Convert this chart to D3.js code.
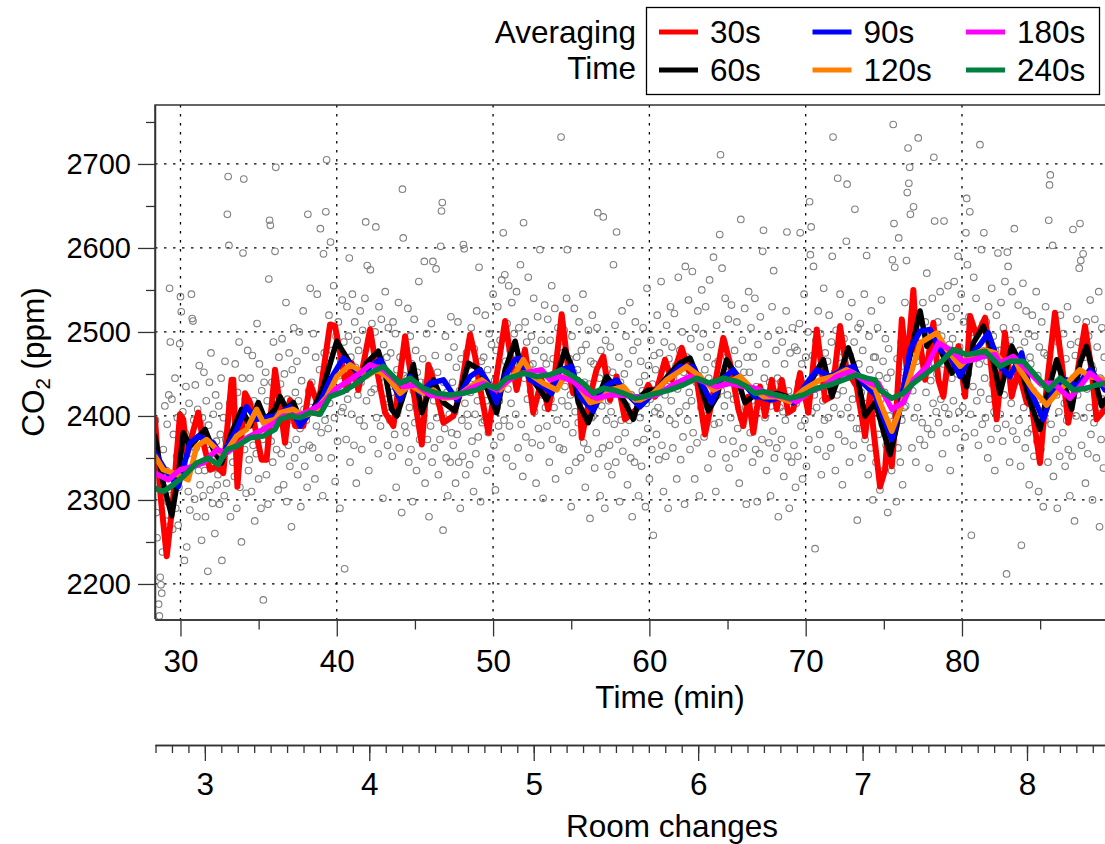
<!DOCTYPE html>
<html><head><meta charset="utf-8">
<script src="https://cdn.jsdelivr.net/npm/d3@7"></script>
<style>
body{margin:0;background:#fff}
svg{display:block}
text{font-family:"Liberation Sans",Arial,Helvetica,sans-serif;fill:#000}
</style>
</head><body>
<svg id="chart" width="1105" height="844"></svg>
<script>
// ---------------- data ----------------
const timeDomain = [28.37, 89.15];          // minutes
const co2Domain = [2158.3, 2770.2];         // ppm
const minutesPerRoomChange = 10.52;
const timeTicks = [30, 40, 50, 60, 70, 80];
const timeMinorTicks = [35, 45, 55, 65, 75, 85];
const co2Ticks = [2200, 2300, 2400, 2500, 2600, 2700];
const co2MinorTicks = [2250, 2350, 2450, 2550, 2650, 2750];
const roomTicks = [3, 4, 5, 6, 7, 8];
const seriesNames = ["30s", "60s", "90s", "120s", "180s", "240s"];
const seriesColors = ["#ff0000", "#000000", "#0000ff", "#ff8000", "#ff00ff", "#008040"];

const avg30 = [[28.37,2396],[28.73,2304],[29.12,2233],[29.50,2296],[29.97,2402],[30.18,2396],[30.40,2352],[30.72,2376],[31.14,2404],[31.46,2368],[31.89,2336],[32.32,2340],[32.74,2332],[33.27,2443],[33.38,2443],[33.64,2316],[34.13,2427],[34.45,2416],[35.19,2348],[35.51,2348],[36.05,2455],[36.69,2368],[37.01,2419],[37.33,2388],[37.86,2388],[38.29,2439],[38.82,2412],[39.57,2509],[39.89,2507],[40.64,2431],[40.95,2463],[41.38,2431],[42.13,2503],[42.45,2467],[43.09,2404],[43.62,2388],[44.37,2495],[44.69,2455],[45.44,2366],[45.86,2461],[46.18,2443],[46.82,2392],[47.46,2400],[47.89,2427],[48.53,2497],[48.85,2471],[49.27,2423],[49.70,2380],[50.02,2423],[50.77,2513],[51.09,2475],[51.51,2431],[52.04,2479],[52.57,2404],[53.11,2443],[53.53,2408],[53.96,2451],[54.39,2521],[54.81,2455],[55.13,2427],[55.45,2443],[55.67,2374],[56.20,2423],[56.62,2455],[57.05,2471],[57.48,2419],[57.90,2447],[58.44,2396],[59.19,2408],[59.61,2423],[59.93,2437],[60.36,2423],[61.00,2467],[61.43,2443],[62.07,2481],[62.49,2455],[63.03,2443],[63.56,2378],[63.98,2416],[64.73,2493],[65.16,2463],[65.69,2408],[66.01,2388],[66.33,2423],[66.65,2380],[67.08,2435],[67.40,2400],[67.83,2443],[68.15,2408],[68.47,2443],[68.89,2404],[69.21,2408],[69.64,2451],[69.96,2423],[70.17,2404],[70.71,2503],[71.03,2455],[71.24,2419],[71.67,2423],[72.20,2507],[72.62,2455],[73.26,2435],[73.80,2376],[74.12,2427],[74.33,2384],[74.76,2316],[75.08,2336],[75.29,2392],[75.51,2340],[75.83,2416],[76.15,2515],[76.47,2455],[76.89,2550],[77.11,2475],[77.32,2487],[77.64,2443],[78.17,2511],[78.49,2443],[78.81,2423],[79.13,2471],[79.45,2455],[79.77,2483],[80.20,2423],[80.52,2519],[80.94,2495],[81.48,2517],[81.80,2471],[82.22,2396],[82.75,2499],[83.18,2423],[83.60,2455],[84.14,2416],[84.46,2412],[84.99,2344],[85.42,2435],[85.95,2523],[86.38,2463],[86.80,2392],[87.34,2447],[87.87,2507],[88.29,2455],[88.61,2396],[89.15,2408]];

const avg60 = [[28.37,2376],[28.90,2320],[29.44,2281],[29.86,2328],[30.18,2380],[30.61,2364],[31.57,2384],[32.10,2360],[32.63,2344],[33.27,2380],[33.91,2408],[34.45,2388],[34.98,2416],[35.41,2396],[36.05,2408],[36.37,2423],[36.80,2408],[37.22,2416],[37.76,2392],[38.50,2408],[39.14,2435],[40.00,2489],[40.32,2479],[40.85,2463],[41.49,2447],[41.91,2463],[42.66,2477],[43.09,2451],[43.51,2408],[43.84,2400],[44.90,2461],[45.44,2404],[46.18,2443],[46.82,2416],[47.57,2406],[48.42,2463],[49.17,2455],[49.81,2423],[50.23,2404],[50.77,2455],[51.41,2489],[51.72,2463],[52.36,2447],[53.00,2431],[53.43,2419],[54.07,2447],[54.60,2479],[55.03,2459],[55.45,2416],[56.09,2392],[56.73,2423],[57.26,2447],[57.90,2431],[58.44,2416],[58.97,2396],[59.40,2423],[59.93,2431],[60.47,2431],[61.32,2451],[61.96,2463],[62.60,2469],[63.24,2439],[63.77,2406],[64.31,2423],[64.94,2467],[65.58,2447],[66.12,2416],[66.87,2427],[67.51,2423],[68.15,2427],[68.79,2423],[69.21,2416],[69.85,2431],[70.49,2447],[71.13,2467],[71.67,2423],[72.20,2451],[72.73,2481],[73.26,2451],[73.80,2400],[74.44,2416],[74.76,2396],[75.40,2354],[75.83,2388],[76.47,2455],[77.32,2525],[77.75,2483],[78.17,2495],[78.81,2471],[79.34,2451],[79.77,2463],[80.30,2435],[80.73,2487],[81.37,2507],[81.80,2483],[82.43,2427],[83.18,2483],[83.71,2463],[84.24,2423],[84.99,2384],[85.52,2431],[86.06,2467],[86.59,2435],[87.02,2408],[87.55,2463],[87.97,2483],[88.51,2443],[88.93,2412],[89.15,2419]];

const avg90 = [[28.37,2356],[29.01,2336],[29.86,2316],[30.61,2368],[31.14,2376],[32.10,2368],[32.63,2352],[33.59,2384],[34.23,2411],[34.87,2396],[36.05,2400],[37.01,2411],[37.65,2388],[38.29,2404],[38.93,2416],[39.57,2443],[40.42,2469],[41.06,2459],[41.59,2443],[42.13,2459],[42.77,2467],[43.41,2447],[44.05,2419],[44.69,2447],[45.33,2427],[45.97,2439],[46.82,2443],[47.68,2419],[48.53,2447],[49.17,2455],[49.70,2439],[50.23,2416],[50.77,2447],[51.41,2467],[51.72,2469],[52.36,2443],[53.21,2435],[53.75,2427],[54.28,2455],[55.03,2459],[55.56,2423],[56.41,2406],[57.16,2435],[57.90,2443],[58.54,2427],[59.40,2411],[60.04,2423],[60.89,2439],[61.96,2459],[62.81,2459],[63.45,2435],[63.98,2416],[64.62,2443],[65.37,2455],[66.01,2439],[66.76,2423],[67.08,2423],[67.72,2419],[68.57,2423],[69.21,2416],[70.07,2439],[70.71,2455],[71.56,2447],[72.41,2455],[73.05,2459],[73.69,2439],[74.44,2425],[74.76,2408],[75.51,2372],[76.04,2411],[76.68,2479],[77.32,2501],[77.96,2503],[78.60,2479],[79.24,2471],[79.88,2447],[80.52,2471],[81.16,2485],[81.69,2499],[82.43,2459],[83.07,2447],[83.82,2475],[84.35,2431],[85.20,2396],[85.84,2431],[86.70,2443],[87.34,2435],[88.19,2455],[88.72,2443],[89.15,2431]];

const avg120 = [[28.37,2352],[28.90,2336],[29.54,2332],[30.50,2324],[31.04,2364],[31.67,2372],[32.32,2360],[32.74,2352],[33.59,2376],[34.23,2384],[34.87,2408],[35.30,2392],[36.05,2396],[36.37,2404],[37.22,2408],[37.86,2400],[38.50,2404],[39.36,2423],[40.00,2447],[40.85,2461],[41.38,2455],[41.91,2447],[42.55,2455],[43.19,2447],[43.73,2435],[44.05,2427],[44.69,2437],[45.54,2427],[46.18,2431],[46.82,2421],[47.68,2423],[48.53,2435],[49.27,2443],[49.81,2435],[50.45,2431],[51.41,2451],[51.93,2467],[52.57,2447],[53.21,2439],[54.07,2431],[54.71,2451],[55.35,2439],[56.20,2416],[56.84,2419],[57.48,2431],[58.33,2435],[59.08,2419],[59.40,2419],[60.25,2427],[61.11,2443],[62.39,2459],[63.24,2447],[64.09,2431],[64.94,2439],[65.80,2447],[66.44,2435],[67.29,2423],[68.15,2423],[69.00,2417],[69.85,2431],[70.92,2443],[71.77,2447],[72.62,2455],[73.48,2447],[74.44,2433],[74.76,2416],[75.51,2382],[76.04,2408],[76.68,2447],[77.32,2487],[78.39,2499],[79.03,2479],[79.88,2459],[80.52,2471],[81.37,2479],[82.12,2475],[82.64,2463],[83.39,2467],[83.71,2455],[84.56,2431],[85.42,2413],[86.06,2427],[86.91,2443],[87.55,2455],[88.19,2447],[89.15,2443]];

const avg180 = [[28.37,2332],[29.22,2324],[29.97,2336],[30.82,2340],[31.46,2344],[32.32,2360],[32.96,2356],[33.81,2368],[34.45,2376],[35.30,2384],[36.05,2392],[36.58,2400],[37.44,2400],[38.29,2406],[39.14,2416],[40.00,2433],[40.85,2443],[41.49,2451],[42.13,2461],[42.98,2455],[43.73,2443],[44.26,2435],[45.12,2437],[45.97,2425],[46.82,2423],[47.68,2423],[48.53,2433],[49.38,2439],[50.23,2431],[50.87,2441],[51.40,2447],[51.93,2451],[53.11,2455],[53.64,2443],[54.28,2447],[55.13,2441],[55.99,2427],[56.62,2421],[57.48,2425],[58.12,2425],[59.08,2423],[59.61,2423],[60.47,2425],[61.32,2435],[62.60,2447],[63.45,2441],[64.31,2435],[65.16,2439],[66.01,2435],[66.76,2433],[67.08,2431],[67.72,2425],[68.57,2423],[69.43,2417],[70.28,2429],[71.13,2435],[71.98,2447],[72.84,2453],[73.69,2443],[74.44,2437],[74.65,2439],[75.51,2408],[76.25,2416],[76.89,2443],[77.75,2459],[78.49,2487],[79.24,2479],[80.09,2465],[80.73,2467],[81.37,2471],[82.12,2473],[82.43,2463],[83.28,2471],[84.14,2455],[84.99,2439],[85.84,2439],[86.91,2421],[87.55,2435],[88.19,2451],[89.15,2437]];

const avg240 = [[28.37,2314],[28.90,2310],[29.54,2318],[30.18,2328],[30.61,2336],[31.04,2344],[31.78,2350],[32.42,2342],[32.96,2360],[33.59,2364],[34.45,2374],[35.30,2376],[36.05,2384],[36.37,2396],[37.01,2400],[37.65,2398],[38.29,2404],[38.93,2402],[39.57,2423],[40.42,2429],[41.27,2439],[42.13,2451],[42.98,2459],[43.41,2451],[44.05,2439],[44.69,2445],[45.54,2433],[46.40,2427],[47.25,2425],[48.10,2427],[48.95,2431],[49.59,2437],[50.23,2433],[50.87,2445],[51.40,2447],[51.93,2451],[52.79,2447],[53.64,2449],[54.39,2455],[55.13,2447],[55.77,2439],[56.41,2427],[57.05,2433],[57.69,2431],[58.33,2427],[59.08,2421],[59.61,2423],[60.47,2427],[61.32,2431],[62.17,2437],[63.03,2445],[63.88,2439],[64.73,2445],[65.58,2441],[66.22,2435],[66.76,2427],[67.29,2429],[68.15,2425],[69.00,2421],[69.85,2425],[70.71,2433],[71.56,2437],[72.41,2443],[73.26,2449],[73.90,2445],[74.44,2443],[74.76,2431],[75.51,2421],[76.25,2427],[76.89,2439],[77.75,2451],[78.60,2463],[79.45,2479],[80.30,2473],[80.94,2475],[81.48,2477],[82.43,2459],[83.07,2465],[83.92,2465],[84.78,2447],[85.52,2431],[86.27,2445],[87.12,2431],[87.97,2433],[88.61,2437],[89.15,2439]];

// raw readings, one every 3 s (0.05 min) starting at 28.40 min
const rawStart = 28.40, rawStep = 0.05;
const rawCO2 = [
2395,2285,2255,2340,2176,2162,2208,2199,2189,2238,2360,2310,2412,2275,2335,2390,2298,2425,2552,2488,
2305,2420,2265,2378,2330,2445,2290,2352,2398,2270,2315,2486,2542,2524,2368,2405,2342,2228,2380,2435,
2244,2372,2310,2415,2288,2356,2545,2516,2513,2395,2301,2437,2362,2280,2408,2335,2460,2318,2390,2252,
2398,2305,2452,2335,2280,2418,2366,2215,2389,2440,2312,2475,2350,2296,2402,2338,2260,2425,2370,2318,
2330,2412,2295,2378,2445,2228,2350,2398,2305,2465,2372,2320,2640,2685,2603,2415,2280,2362,2436,2345,
2410,2328,2462,2375,2290,2428,2352,2488,2315,2398,2250,2445,2594,2682,2360,2420,2308,2395,2478,2335,
2348,2445,2390,2310,2472,2365,2418,2275,2402,2355,2510,2380,2325,2462,2398,2290,2430,2372,2181,2440,
2385,2452,2330,2418,2295,2563,2633,2627,2370,2440,2345,2488,2402,2596,2696,2360,2425,2312,2470,2392,
2438,2355,2492,2402,2318,2450,2380,2535,2298,2420,2365,2475,2340,2412,2268,2455,2395,2505,2350,2428,
2372,2465,2330,2418,2500,2385,2292,2442,2360,2525,2408,2340,2478,2395,2315,2640,2430,2365,2552,2410,
2440,2362,2498,2405,2325,2470,2388,2545,2410,2350,2455,2623,2380,2428,2305,2593,2475,2395,2643,2705,
2462,2385,2520,2415,2607,2350,2478,2440,2555,2398,2322,2495,2430,2370,2512,2448,2290,2465,2405,2538,
2410,2488,2218,2455,2372,2530,2420,2495,2588,2345,2470,2402,2545,2438,2365,2512,2458,2320,2490,2425,
2478,2395,2525,2440,2360,2502,2455,2388,2540,2631,2418,2579,2465,2335,2492,2574,2428,2510,2372,2458,
2432,2500,2625,2398,2468,2355,2530,2445,2388,2515,2462,2302,2485,2420,2548,2410,2470,2365,2505,2440,
2395,2475,2428,2352,2512,2440,2378,2498,2315,2455,2405,2535,2362,2470,2420,2285,2670,2612,2448,2388,
2472,2380,2445,2528,2345,2410,2495,2360,2462,2298,2430,2515,2392,2478,2335,2452,2405,2560,2372,2440,
2410,2352,2468,2395,2584,2320,2440,2498,2372,2425,2280,2455,2388,2510,2345,2584,2418,2362,2472,2575,
2398,2452,2330,2415,2372,2602,2644,2654,2264,2440,2385,2495,2350,2428,2305,2470,2402,2345,2518,2380,
2440,2365,2482,2405,2320,2458,2378,2512,2345,2430,2290,2468,2395,2352,2604,2599,2415,2330,2475,2402,
2388,2460,2342,2428,2505,2370,2445,2310,2480,2402,2355,2525,2418,2375,2577,2440,2298,2465,2392,2435,
2470,2395,2520,2418,2335,2455,2380,2498,2428,2350,2485,2405,2545,2365,2442,2312,2478,2410,2530,2388,
2418,2490,2375,2562,2440,2618,2395,2568,2465,2350,2510,2432,2555,2388,2478,2415,2535,2340,2460,2498,
2475,2402,2548,2438,2362,2505,2455,2580,2390,2470,2328,2630,2445,2512,2375,2488,2420,2565,2350,2460,
2430,2495,2368,2462,2540,2405,2478,2320,2452,2518,2385,2440,2598,2365,2490,2425,2302,2470,2532,2410,
2462,2388,2515,2435,2345,2490,2420,2555,2372,2468,2410,2528,2325,2450,2395,2505,2440,2362,2482,2732,
2418,2475,2360,2502,2435,2390,2540,2598,2412,2335,2468,2425,2292,2495,2380,2452,2528,2405,2345,2470,
2455,2392,2512,2430,2350,2478,2405,2545,2368,2440,2315,2485,2420,2360,2502,2438,2278,2465,2398,2520,
2400,2462,2338,2428,2380,2505,2642,2355,2445,2305,2478,2412,2362,2637,2432,2290,2490,2395,2455,2340,
2418,2365,2482,2405,2330,2452,2580,2390,2508,2345,2619,2428,2372,2470,2298,2440,2395,2525,2358,2432,
2450,2380,2495,2412,2318,2462,2395,2535,2350,2425,2280,2478,2402,2345,2512,2420,2368,2488,2305,2440,
2398,2465,2340,2430,2505,2372,2448,2292,2415,2552,2385,2460,2325,2420,2490,2360,2438,2258,2472,2405,
2455,2378,2520,2410,2348,2475,2402,2560,2365,2442,2310,2488,2425,2352,2508,2435,2290,2468,2395,2530,
2418,2482,2362,2445,2522,2390,2460,2325,2432,2565,2405,2478,2348,2440,2500,2375,2452,2295,2578,2412,
2470,2395,2538,2428,2360,2492,2418,2572,2380,2455,2325,2505,2440,2368,2525,2448,2305,2482,2410,2550,
2432,2498,2375,2455,2530,2400,2470,2338,2445,2562,2418,2485,2355,2440,2589,2390,2462,2310,2508,2425,
2465,2392,2616,2711,2430,2576,2372,2488,2412,2540,2350,2470,2425,2515,2338,2458,2398,2532,2445,2370,
2420,2478,2355,2445,2512,2385,2462,2320,2430,2634,2398,2490,2362,2452,2528,2410,2295,2470,2435,2548,
2452,2380,2505,2418,2345,2470,2402,2540,2360,2435,2298,2485,2412,2355,2518,2428,2372,2596,2621,2445,
2398,2462,2335,2420,2495,2368,2440,2305,2412,2530,2382,2573,2350,2428,2478,2362,2445,2280,2502,2410,
2440,2372,2488,2405,2328,2462,2395,2525,2619,2352,2430,2290,2475,2410,2345,2505,2422,2365,2482,2315,
2415,2478,2352,2440,2510,2618,2388,2462,2325,2428,2545,2395,2470,2340,2435,2500,2372,2655,2592,2625,
2405,2472,2578,2425,2242,2490,2410,2360,2525,2445,2378,2498,2330,2462,2418,2552,2395,2475,2352,2440,
2465,2398,2520,2435,2362,2488,2590,2732,2410,2452,2335,2502,2425,2683,2378,2470,2545,2402,2458,2318,
2430,2492,2370,2455,2608,2676,2410,2518,2345,2472,2398,2535,2420,2365,2488,2646,2440,2385,2276,2505,
2462,2385,2510,2428,2350,2478,2402,2545,2372,2440,2591,2415,2330,2495,2455,2362,2525,2408,2300,2470,
2412,2470,2345,2435,2505,2378,2448,2312,2420,2538,2390,2465,2335,2428,2492,2365,2445,2285,2480,2400,
2380,2452,2335,2586,2747,2629,2577,2405,2298,2468,2362,2612,2420,2345,2488,2395,2318,2452,2410,2535,
2412,2585,2666,2719,2677,2696,2640,2475,2362,2430,2649,2398,2520,2345,2465,2410,2731,2480,2372,2505,
2470,2392,2535,2448,2365,2512,2428,2570,2385,2460,2338,2495,2442,2378,2540,2415,2708,2632,2482,2405,
2450,2512,2392,2478,2548,2420,2495,2355,2462,2632,2410,2528,2380,2470,2555,2402,2485,2335,2518,2445,
2492,2418,2560,2465,2385,2528,2450,2590,2405,2482,2362,2545,2470,2410,2512,2438,2375,2618,2659,2580,
2450,2518,2643,2402,2258,2492,2435,2565,2380,2475,2540,2418,2498,2365,2462,2723,2428,2598,2390,2510,
2618,2445,2398,2512,2465,2350,2530,2420,2488,2372,2552,2438,2495,2405,2335,2478,2520,2385,2594,2455,
2478,2402,2535,2448,2370,2505,2425,2560,2390,2212,2595,2578,2455,2345,2490,2415,2548,2382,2468,2623,
2440,2505,2372,2465,2532,2395,2478,2340,2246,2450,2558,2410,2488,2362,2525,2430,2380,2498,2318,2470,
2462,2385,2520,2430,2352,2495,2408,2548,2370,2448,2310,2482,2420,2360,2512,2438,2292,2475,2395,2530,
2418,2472,2345,2633,2675,2687,2390,2455,2603,2328,2440,2505,2372,2425,2290,2488,2405,2352,2520,2430,
2450,2380,2498,2415,2340,2468,2395,2530,2360,2438,2305,2485,2420,2352,2622,2445,2275,2472,2400,2515,
2425,2488,2576,2629,2585,2365,2445,2593,2398,2470,2320,2512,2432,2355,2495,2410,2538,2378,2460,2300,
2455,2392,2515,2430,2350,2482,2410,2548,2268,2445,2372,2505,2420,2338,2470
];

const seriesData = [avg30, avg60, avg90, avg120, avg180, avg240];

// ---------------- layout ----------------
const plot = {left: 155, right: 1105, top: 105, bottom: 619};
const roomAxisY = 745;
const TICK_FONT = 29;
const TITLE_FONT = 31.5;

const svg = d3.select("#chart");
const x = d3.scaleLinear().domain(timeDomain).range([plot.left, plot.right]);
const y = d3.scaleLinear().domain(co2Domain).range([plot.bottom, plot.top]);
const xr = d3.scaleLinear()
  .domain([timeDomain[0] / minutesPerRoomChange, timeDomain[1] / minutesPerRoomChange])
  .range([plot.left, plot.right]);

svg.append("defs").append("clipPath").attr("id", "clip")
  .append("rect").attr("x", plot.left).attr("y", plot.top)
  .attr("width", plot.right - plot.left).attr("height", plot.bottom - plot.top);

// grid
const grid = svg.append("g").attr("stroke", "#000").attr("stroke-width", 1.3)
  .attr("stroke-dasharray", "2.5,6.5");
grid.selectAll("line.h").data(co2Ticks).join("line").attr("class", "h")
  .attr("x1", plot.left).attr("x2", plot.right)
  .attr("y1", d => y(d)).attr("y2", d => y(d));
grid.selectAll("line.v").data(timeTicks).join("line").attr("class", "v")
  .attr("y1", plot.top).attr("y2", plot.bottom)
  .attr("x1", d => x(d)).attr("x2", d => x(d));

// raw points
const raw = rawCO2.map((v, i) => [rawStart + i * rawStep, v]);
svg.append("g").attr("clip-path", "url(#clip)")
  .selectAll("circle").data(raw).join("circle")
  .attr("cx", d => x(d[0])).attr("cy", d => y(d[1])).attr("r", 3.3)
  .attr("fill", "none").attr("stroke", "#808080").attr("stroke-width", 1.1);

// averaged lines
const line = d3.line().x(d => x(d[0])).y(d => y(d[1]));
svg.append("g").attr("clip-path", "url(#clip)")
  .selectAll("path").data(seriesData).join("path")
  .attr("d", line).attr("fill", "none")
  .attr("stroke", (d, i) => seriesColors[i])
  .attr("stroke-width", (d, i) => i === 0 ? 6 : 5.5)
  .attr("stroke-linejoin", "round").attr("stroke-linecap", "round");

// frame (left + top)
svg.append("path")
  .attr("d", `M${plot.right},${plot.top}H${plot.left}V${plot.bottom}`)
  .attr("fill", "none").attr("stroke", "#333").attr("stroke-width", 1.5);

function styleAxis(g) {
  g.selectAll(".domain").attr("stroke", "#333").attr("stroke-width", 1.5);
  g.selectAll(".tick line").attr("stroke", "#333").attr("stroke-width", 1.3);
  g.selectAll("text").attr("font-size", TICK_FONT).attr("font-family", '"Liberation Sans",Arial,sans-serif').attr("fill", "#000");
}

// left axis
const yMinor = svg.append("g").attr("transform", `translate(${plot.left},0)`)
  .call(d3.axisLeft(y).tickValues(co2MinorTicks).tickSize(9).tickSizeOuter(0).tickFormat(""));
styleAxis(yMinor);
yMinor.select(".domain").remove();
const yAxis = svg.append("g").attr("transform", `translate(${plot.left},0)`)
  .call(d3.axisLeft(y).tickValues(co2Ticks).tickSize(17).tickSizeOuter(0).tickPadding(7).tickFormat(d3.format("d")));
styleAxis(yAxis);

// bottom time axis
const xMinor = svg.append("g").attr("transform", `translate(0,${plot.bottom + 0.5})`)
  .call(d3.axisBottom(x).tickValues(timeMinorTicks).tickSize(10).tickSizeOuter(0).tickFormat(""));
styleAxis(xMinor);
const xAxis = svg.append("g").attr("transform", `translate(0,${plot.bottom + 0.5})`)
  .call(d3.axisBottom(x).tickValues(timeTicks).tickSize(17).tickSizeOuter(0).tickPadding(13).tickFormat(d3.format("d")));
styleAxis(xAxis);
xAxis.selectAll("text").attr("font-size", TITLE_FONT);

// room changes axis
const roomMinor = d3.range(27, 85).map(d => d / 10);
const rMinor = svg.append("g").attr("transform", `translate(0,${roomAxisY})`)
  .call(d3.axisBottom(xr).tickValues(roomMinor).tickSize(8).tickSizeOuter(0).tickFormat(""));
styleAxis(rMinor);
const rAxis = svg.append("g").attr("transform", `translate(0,${roomAxisY})`)
  .call(d3.axisBottom(xr).tickValues(roomTicks).tickSize(16).tickSizeOuter(0).tickPadding(12).tickFormat(d3.format("d")));
styleAxis(rAxis);
rAxis.selectAll("text").attr("font-size", TITLE_FONT);

// axis titles
svg.append("text").attr("x", 670).attr("y", 697).attr("dy", "0.35em")
  .attr("text-anchor", "middle").attr("font-size", TITLE_FONT).text("Time (min)");
svg.append("text").attr("x", 672).attr("y", 826).attr("dy", "0.35em")
  .attr("text-anchor", "middle").attr("font-size", TITLE_FONT).text("Room changes");
const yl = svg.append("text").attr("transform", "translate(33,362) rotate(-90)")
  .attr("text-anchor", "middle").attr("dy", "0.35em").attr("font-size", TITLE_FONT);
yl.append("tspan").text("CO");
yl.append("tspan").attr("font-size", TITLE_FONT * 0.65).attr("dy", "0.3em").text("2");
yl.append("tspan").attr("dy", "-0.2em").text(" (ppm)");

// legend
svg.append("text").attr("x", 636).attr("y", 32).attr("dy", "0.35em")
  .attr("text-anchor", "end").attr("font-size", TITLE_FONT).text("Averaging");
svg.append("text").attr("x", 636).attr("y", 68).attr("dy", "0.35em")
  .attr("text-anchor", "end").attr("font-size", TITLE_FONT).text("Time");
svg.append("rect").attr("x", 646.5).attr("y", 7.5).attr("width", 453).attr("height", 87)
  .attr("fill", "#fff").attr("stroke", "#000").attr("stroke-width", 1.3);
const leg = svg.append("g").selectAll("g").data(seriesNames).join("g")
  .attr("transform", (d, i) => `translate(${659 + Math.floor(i / 2) * 153.5},${32 + (i % 2) * 38})`);
leg.append("line").attr("x1", 0).attr("x2", 39).attr("y1", 0).attr("y2", 0)
  .attr("stroke", (d, i) => seriesColors[i]).attr("stroke-width", 5);
leg.append("text").attr("x", 51).attr("dy", "0.35em").attr("font-size", TITLE_FONT).text(d => d);
</script>
</body></html>
